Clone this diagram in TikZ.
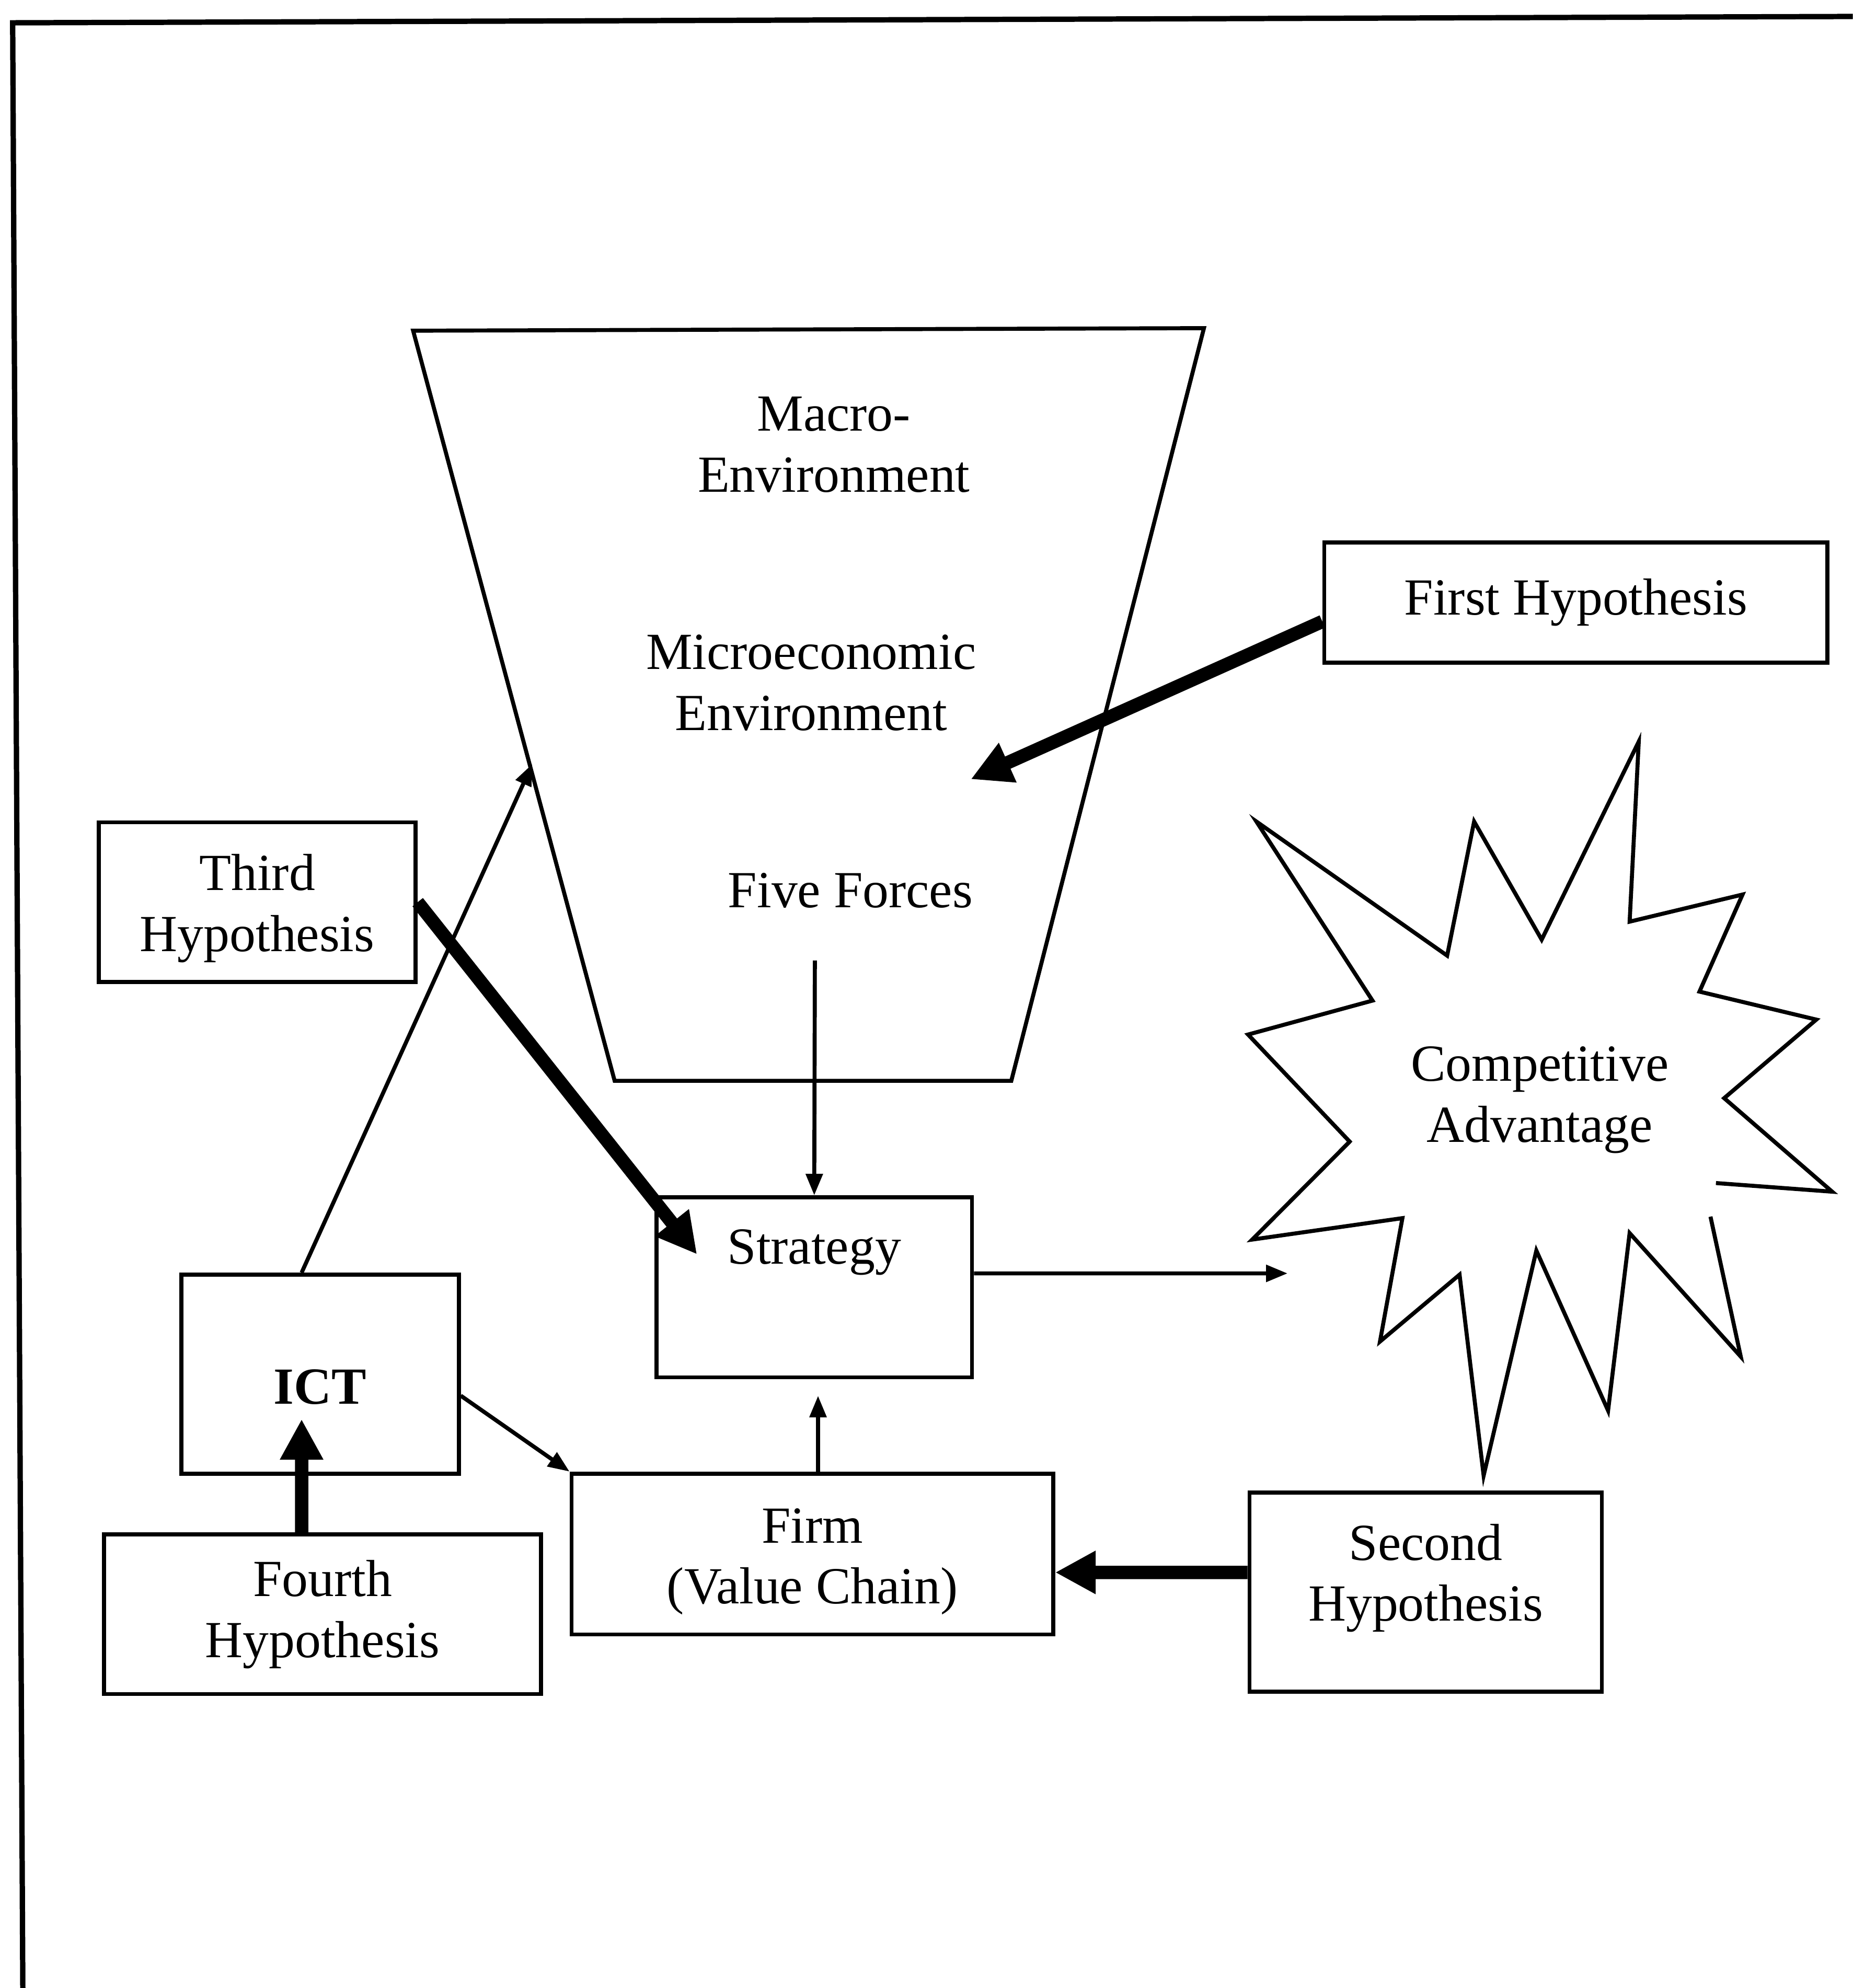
\documentclass[tikz,border=0pt]{standalone}
\usepackage{fontspec}
\setmainfont{Liberation Serif}
\usetikzlibrary{arrows.meta}

\tikzset{
  hbox/.style={draw, line width=0.9pt, align=center, inner sep=0pt},
  thinarrow/.style={line width=0.9pt, -{Triangle[length=0.17cm,width=0.13cm]}},
  thickarrow/.style={line width=3pt, -{Triangle[length=0.32cm,width=0.32cm]}},
}

\begin{document}
\begin{tikzpicture}[x=0.1mm,y=-0.1mm,font=\fontsize{11.7pt}{13.7pt}\selectfont]
  \useasboundingbox (0,0) rectangle (1462,1569);
  % frame
  \draw[line width=1.2pt] (18,1569) -- (10,18) -- (1462,13);
  % funnel
  \draw[line width=0.9pt] (326,261) -- (950,259) -- (798,853) -- (485,853) -- cycle;
  \coordinate (funnelleft) at (420,603);
  \coordinate (microtip) at (766,615);
  \node[align=center] (macro) at (658,351) {Macro-\\Environment};
  \node[align=center] (micro) at (640,539) {Microeconomic\\Environment};
  \node (five) at (671,703) {Five Forces};
  \coordinate (fivebelow) at (643,758);
  % star
  \draw[line width=0.9pt] (1349.7,960.2) -- (1373.6,1070.7) -- (1285.9,973.2) -- (1268.9,1113.3)
    -- (1212.3,987) -- (1170.7,1164.6) -- (1151.7,1006) -- (1088.9,1058.8) -- (1106.6,961.4)
    -- (988.1,978.3) -- (1065,901) -- (984.8,816.5) -- (1083,789.7) -- (991.4,648.4)
    -- (1141.9,754.2) -- (1163.2,648.4) -- (1216.5,741.6) -- (1293.1,585.3) -- (1285.9,727.4)
    -- (1375,706) -- (1341,782.6) -- (1433.2,804.7) -- (1360.5,866.7) -- (1445.7,940.5)
    -- (1354,933.7);
  \node[align=center] (advantage) at (1215,868) {Competitive\\Advantage};
  \coordinate (starleft) at (1016,1005);
  % boxes
  \node[hbox, minimum width=3.97cm, minimum height=0.95cm] (first) at (1243.5,475.5) {First Hypothesis};
  \node[hbox, minimum width=2.50cm, minimum height=1.26cm] (third) at (203,712) {\raisebox{-0.5mm}[\height][\depth]{Third}\\\raisebox{-0.5mm}[\height][\depth]{Hypothesis}};
  \node[hbox, minimum width=2.19cm, minimum height=1.57cm] (ict) at (252.5,1084.5) {\raisebox{-1mm}[\height][\depth]{\textbf{ICT}}};
  \node[hbox, minimum width=3.45cm, minimum height=1.26cm] (fourth) at (254.5,1274) {Fourth\\Hypothesis};
  \node[hbox, minimum width=2.49cm, minimum height=1.42cm,
        label={[anchor=north,inner sep=0.26cm]north:Strategy}] (strategy) at (642.5,1016) {};
  \node[hbox, minimum width=3.80cm, minimum height=1.27cm] (firm) at (641,1226.5) {\raisebox{-0.6mm}[\height][\depth]{Firm}\\\raisebox{-0.6mm}[\height][\depth]{(Value Chain)}};
  \node[hbox, minimum width=2.78cm, minimum height=1.57cm] (second) at (1125,1256.5) {\raisebox{1.1mm}[\height][\depth]{Second}\\\raisebox{1.1mm}[\height][\depth]{Hypothesis}};
  \coordinate (strategyin) at (550,990);
  \coordinate (ictin) at (238,1120);
  % connectors
  \draw[thinarrow] (fivebelow) -- (strategy.north);
  \draw[thinarrow] ([yshift=0.11cm]strategy.east) -- (starleft);
  \draw[thinarrow] ([xshift=0.3mm]strategy.south |- firm.north) -- ([xshift=0.3mm,yshift=-0.13cm]strategy.south);
  \draw[thinarrow] ([xshift=-0.145cm]ict.north) -- (funnelleft);
  \draw[thinarrow] ([yshift=-0.17cm]ict.east) -- (firm.north west);
  \draw[thickarrow] ([yshift=-0.15cm]first.west) -- (microtip);
  \draw[thickarrow] (third.east) -- (strategyin);
  \draw[thickarrow] ([xshift=-0.165cm]fourth.north) -- (ictin);
  \draw[thickarrow] ([yshift=0.155cm]second.west) -- ([yshift=-0.145cm]firm.east);
\end{tikzpicture}
\end{document}
